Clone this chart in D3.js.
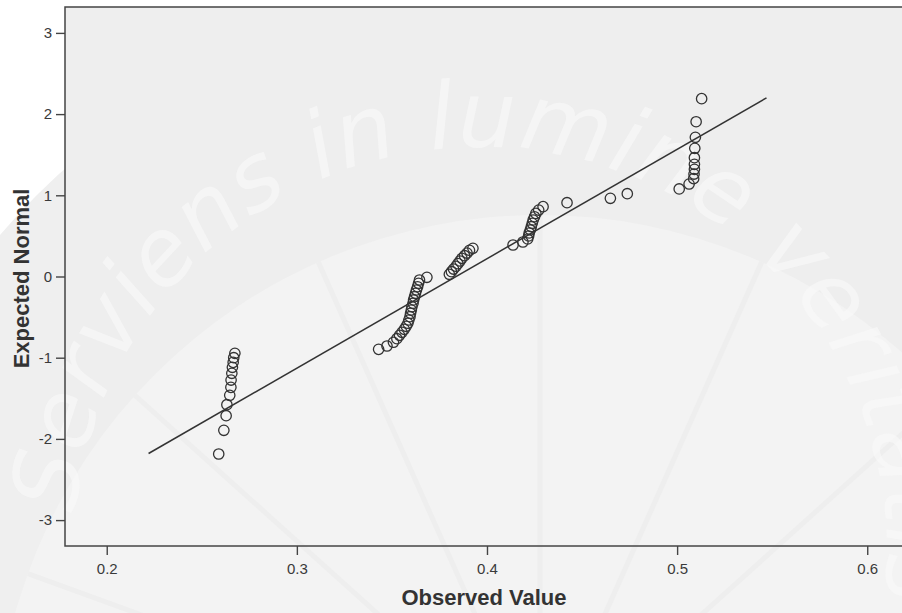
<!DOCTYPE html>
<html>
<head>
<meta charset="utf-8">
<script src="https://cdn.jsdelivr.net/npm/d3@7"></script>
<style>
  html, body { margin: 0; padding: 0; background: #ffffff; }
  svg { display: block; }
</style>
</head>
<body>
<svg id="chart" width="902" height="613"></svg>
<script>
// ---- data ----
const observed = [
  0.2589, 0.2616, 0.2628, 0.2632, 0.2647, 0.2653, 0.2654, 0.2658, 0.2661, 0.2665, 0.2668, 0.2674,
  0.3430, 0.3474, 0.3508, 0.3526, 0.3540, 0.3553, 0.3565, 0.3575, 0.3584, 0.3589, 0.3595, 0.3598,
  0.3602, 0.3605, 0.3611, 0.3614, 0.3619, 0.3624, 0.3629, 0.3635, 0.3640, 0.3645, 0.3684,
  0.3802, 0.3813, 0.3824, 0.3837, 0.3847, 0.3858, 0.3868, 0.3882, 0.3895, 0.3908, 0.3926,
  0.4137, 0.4189, 0.4214, 0.4219, 0.4222, 0.4228, 0.4233, 0.4238, 0.4243, 0.4250, 0.4257, 0.4272, 0.4295,
  0.4421, 0.4649, 0.4738, 0.5011, 0.5063, 0.5087, 0.5089, 0.5091, 0.5091, 0.5091, 0.5093, 0.5096, 0.5100, 0.5129
];
const expected = [
  -2.186, -1.894, -1.714, -1.579, -1.463, -1.365, -1.275, -1.192, -1.118, -1.057, -1.000, -0.946,
  -0.897, -0.856, -0.810, -0.766, -0.724, -0.687, -0.650, -0.613, -0.576, -0.536, -0.495, -0.453,
  -0.413, -0.372, -0.330, -0.289, -0.249, -0.207, -0.166, -0.126, -0.084, -0.043, -0.010,
  0.027, 0.059, 0.092, 0.126, 0.158, 0.191, 0.224, 0.256, 0.289, 0.323, 0.347,
  0.388, 0.425, 0.462, 0.499, 0.536, 0.573, 0.613, 0.655, 0.696, 0.736, 0.777, 0.818, 0.860,
  0.909, 0.963, 1.020, 1.078, 1.139, 1.205, 1.262, 1.320, 1.382, 1.463, 1.579, 1.714, 1.906, 2.190
];
const lineObserved = [0.222, 0.547];
const lineExpected = [-2.18, 2.20];
const xTicks = [0.2, 0.3, 0.4, 0.5, 0.6];
const yTicks = [-3, -2, -1, 0, 1, 2, 3];
const xTitle = "Observed Value";
const yTitle = "Expected Normal";
const watermarkText = "Serviens in lumine veritatis";

(function () {
// ---- layout ----
const W = 902, H = 613;
const pL = 65, pT = 7, pB = 546, pR = 905;
const svg = d3.select("#chart");

const x = d3.scaleLinear().domain([0.17805, 0.61986]).range([pL, pR]);
const y = d3.scaleLinear().domain([-3.319, 3.319]).range([pB, pT]);

// ---- background & watermark ----
svg.append("rect").attr("width", W).attr("height", H).attr("fill", "#ffffff");
svg.append("circle").attr("cx", 480).attr("cy", 640).attr("r", 628).attr("fill", "#efefef");
svg.append("rect").attr("x", pL).attr("y", pT).attr("width", pR - pL).attr("height", pB - pT)
  .attr("fill", "#eeeeee");

const wm = svg.append("g").attr("pointer-events", "none");
wm.append("circle").attr("cx", 540).attr("cy", 760).attr("r", 545).attr("fill", "#f3f3f3");
const rayAngles = [200, 222, 246, 270, 294, 318, 340];
rayAngles.forEach(a => {
  const rad = a * Math.PI / 180;
  wm.append("line")
    .attr("x1", 540).attr("y1", 760)
    .attr("x2", 540 + 545 * Math.cos(rad)).attr("y2", 760 + 545 * Math.sin(rad))
    .attr("stroke", "#eeeeee").attr("stroke-width", 5);
});
const cx = 480, cy = 554, r = 407;
const a0 = Math.PI, a1 = -40 * Math.PI / 180;
const arcPath = `M ${cx + r * Math.cos(a0)} ${cy - r * Math.sin(a0)} A ${r} ${r} 0 1 1 ${cx + r * Math.cos(a1)} ${cy - r * Math.sin(a1)}`;
svg.append("defs").append("path").attr("id", "wmArc").attr("d", arcPath);
wm.append("text")
  .attr("font-family", "'DejaVu Sans', sans-serif")
  .attr("font-weight", 200)
  .attr("font-style", "italic")
  .attr("font-size", 92)
  .attr("fill", "#f8f8f8")
  .attr("fill-opacity", 0.7)
  .append("textPath")
  .attr("href", "#wmArc")
  .attr("startOffset", 40)
  .attr("textLength", 1285)
  .attr("lengthAdjust", "spacing")
  .text(watermarkText);

svg.append("rect").attr("x", 0).attr("y", 0).attr("width", W).attr("height", pT).attr("fill", "#ffffff");

// ---- reference line ----
const g = svg.append("g");
g.append("line")
  .attr("x1", x(lineObserved[0])).attr("y1", y(lineExpected[0]))
  .attr("x2", x(lineObserved[1])).attr("y2", y(lineExpected[1]))
  .attr("stroke", "#333333").attr("stroke-width", 1.5);

// ---- points ----
const pts = observed.map((v, i) => ({ o: v, e: expected[i] }));
g.selectAll("circle.pt").data(pts).enter().append("circle")
  .attr("class", "pt")
  .attr("cx", d => x(d.o)).attr("cy", d => y(d.e))
  .attr("r", 5.2)
  .attr("fill", "none")
  .attr("stroke", "#333333")
  .attr("stroke-width", 1.3);

// ---- frame ----
svg.append("rect").attr("x", pL).attr("y", pT).attr("width", pR - pL).attr("height", pB - pT)
  .attr("fill", "none").attr("stroke", "#444444").attr("stroke-width", 1.5);

// ---- axes ----
const fontFam = "'Liberation Sans', Arial, Helvetica, sans-serif";
const xAxis = svg.append("g").attr("transform", `translate(0,${pB})`)
  .call(d3.axisBottom(x).tickValues(xTicks).tickSize(9).tickPadding(8).tickFormat(d3.format(".1f")));
const yAxis = svg.append("g").attr("transform", `translate(${pL},0)`)
  .call(d3.axisLeft(y).tickValues(yTicks).tickSize(9).tickPadding(4).tickFormat(d => String(d)));
[xAxis, yAxis].forEach(ax => {
  ax.select(".domain").remove();
  ax.selectAll(".tick line").attr("stroke", "#444444").attr("stroke-width", 1.4);
  ax.selectAll(".tick text").attr("fill", "#3a3a3a").attr("font-size", 15).attr("font-family", fontFam);
});

// ---- titles ----
svg.append("text")
  .attr("x", 484).attr("y", 605)
  .attr("text-anchor", "middle")
  .attr("font-family", fontFam).attr("font-weight", "bold").attr("font-size", 22)
  .attr("fill", "#333333")
  .text(xTitle);
svg.append("text")
  .attr("transform", "translate(29,278.5) rotate(-90)")
  .attr("text-anchor", "middle")
  .attr("font-family", fontFam).attr("font-weight", "bold").attr("font-size", 22)
  .attr("fill", "#333333")
  .text(yTitle);
})();
</script>
</body>
</html>
